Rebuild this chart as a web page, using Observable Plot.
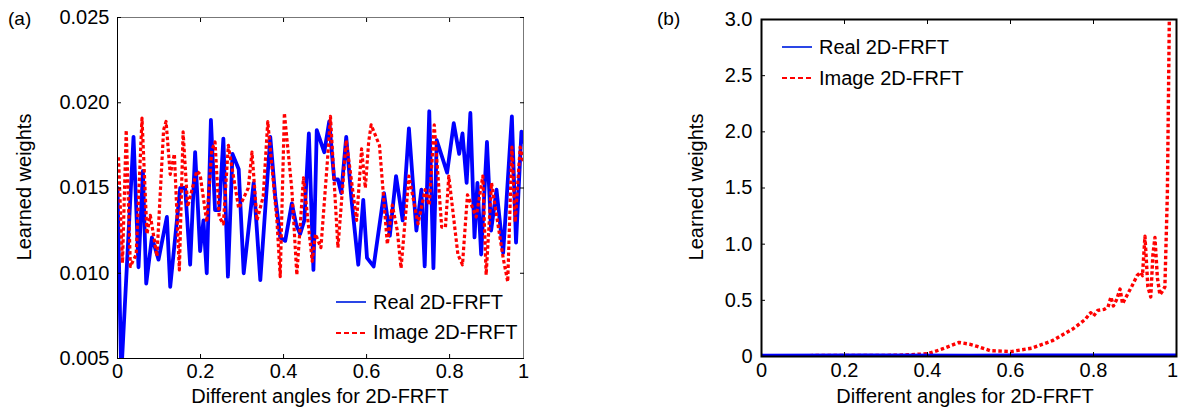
<!DOCTYPE html>
<html>
<head>
<meta charset="utf-8">
<script src="https://cdn.jsdelivr.net/npm/d3@7"></script>
<script src="https://cdn.jsdelivr.net/npm/@observablehq/plot@0.6"></script>
<style>
  html, body { margin: 0; padding: 0; background: #fff; }
  #wrap { position: relative; width: 1179px; height: 412px; overflow: hidden; font-family: "Liberation Sans", Arial, sans-serif; }
  #left, #right, #overlay { position: absolute; top: 0; }
  #left { left: 0; }
  #right { left: 600px; }
  #overlay { left: 0; pointer-events: none; }
</style>
</head>
<body>
<div id="wrap">
  <div id="left"></div>
  <div id="right"></div>
  <svg id="overlay" width="1179" height="412"></svg>
</div>
<script>
// ---------- Panel (a) data ----------
const realAX = [0, 0.009, 0.0386, 0.0506, 0.0612, 0.0692, 0.0829, 0.0988, 0.119, 0.127, 0.151, 0.163, 0.175, 0.187, 0.199, 0.207, 0.215, 0.225, 0.235, 0.245, 0.255, 0.266, 0.277, 0.292, 0.304, 0.328, 0.344, 0.368, 0.380, 0.392, 0.404, 0.420, 0.431, 0.440, 0.450, 0.461, 0.472, 0.480, 0.498, 0.510, 0.522, 0.531, 0.539, 0.551, 0.563, 0.580, 0.592, 0.601, 0.617, 0.642, 0.656, 0.671, 0.687, 0.702, 0.720, 0.732, 0.740, 0.751, 0.761, 0.769, 0.794, 0.810, 0.823, 0.831, 0.841, 0.850, 0.860, 0.867, 0.876, 0.890, 0.900, 0.913, 0.929, 0.950, 0.960, 0.973, 0.978];
const realAY = [0.0150, 0.0040, 0.0180, 0.01035, 0.0160, 0.0094, 0.0121, 0.0108, 0.0133, 0.0092, 0.0150, 0.0150, 0.0105, 0.0171, 0.0113, 0.0131, 0.0100, 0.0190, 0.0137, 0.0137, 0.0179, 0.0098, 0.0170, 0.0161, 0.0100, 0.0153, 0.0096, 0.0180, 0.0145, 0.0121, 0.0119, 0.0141, 0.0128, 0.0123, 0.0131, 0.0182, 0.0102, 0.0184, 0.0171, 0.0189, 0.0155, 0.0155, 0.0147, 0.0180, 0.0145, 0.0105, 0.0143, 0.0109, 0.0104, 0.0147, 0.0122, 0.0157, 0.0131, 0.0185, 0.0125, 0.0149, 0.0104, 0.0195, 0.0103, 0.0178, 0.0159, 0.0188, 0.0170, 0.0182, 0.0153, 0.0194, 0.0121, 0.0153, 0.0111, 0.0177, 0.0125, 0.0149, 0.0112, 0.0192, 0.0118, 0.0183, 0.0177];
const imagAX = [0.0024, 0.008, 0.012, 0.021, 0.031, 0.045, 0.059, 0.071, 0.079, 0.095, 0.111, 0.117, 0.127, 0.137, 0.149, 0.158, 0.169, 0.191, 0.199, 0.215, 0.227, 0.235, 0.245, 0.255, 0.267, 0.292, 0.315, 0.324, 0.336, 0.351, 0.362, 0.384, 0.392, 0.402, 0.420, 0.432, 0.448, 0.469, 0.477, 0.490, 0.506, 0.513, 0.531, 0.551, 0.576, 0.588, 0.597, 0.605, 0.611, 0.631, 0.650, 0.662, 0.674, 0.683, 0.702, 0.724, 0.741, 0.751, 0.763, 0.781, 0.790, 0.798, 0.820, 0.831, 0.843, 0.864, 0.880, 0.888, 0.901, 0.929, 0.940, 0.950, 0.958, 0.970, 0.978];
const imagAY = [0.0168, 0.0131, 0.0106, 0.0184, 0.0104, 0.0111, 0.0191, 0.0123, 0.0134, 0.0110, 0.0184, 0.0189, 0.0158, 0.0170, 0.0102, 0.0183, 0.0139, 0.0160, 0.0158, 0.0130, 0.0172, 0.0177, 0.0133, 0.0129, 0.0175, 0.0138, 0.0150, 0.0171, 0.0131, 0.0145, 0.0189, 0.0131, 0.0098, 0.0194, 0.0149, 0.0099, 0.0156, 0.0107, 0.0123, 0.0115, 0.0167, 0.0192, 0.0115, 0.0178, 0.0131, 0.0173, 0.0150, 0.0177, 0.0187, 0.0175, 0.0117, 0.0140, 0.0125, 0.0103, 0.0157, 0.0129, 0.0149, 0.0140, 0.0187, 0.0127, 0.0127, 0.0157, 0.0111, 0.0105, 0.0146, 0.0133, 0.0157, 0.0099, 0.0153, 0.0109, 0.0095, 0.0174, 0.0130, 0.0174, 0.0165];
const xTicksA = [0, 0.2, 0.4, 0.6, 0.8, 0.978];
const xLabelsA = ["0", "0.2", "0.4", "0.6", "0.8", "1"];
const yTicksA = [0.005, 0.010, 0.015, 0.020, 0.025];

// ---------- Panel (b) data ----------
const realBX = [0, 0.25, 0.5, 0.75, 1];
const realBY = [0.014, 0.015, 0.013, 0.016, 0.015];
const imagBX = [0, 0.1, 0.2, 0.3, 0.343, 0.401, 0.434, 0.476, 0.501, 0.52, 0.551, 0.601, 0.651, 0.701, 0.751, 0.78, 0.793, 0.80, 0.81, 0.826, 0.835, 0.842, 0.848, 0.855, 0.864, 0.870, 0.893, 0.905, 0.914, 0.918, 0.924, 0.931, 0.938, 0.943, 0.948, 0.954, 0.960, 0.966, 0.972, 0.978, 0.983];
const imagBY = [0.008, 0.008, 0.009, 0.010, 0.013, 0.025, 0.065, 0.125, 0.110, 0.090, 0.052, 0.044, 0.074, 0.141, 0.247, 0.33, 0.39, 0.36, 0.41, 0.42, 0.44, 0.53, 0.45, 0.50, 0.60, 0.47, 0.63, 0.72, 0.75, 0.72, 1.07, 0.62, 0.53, 0.90, 1.06, 0.70, 0.55, 0.58, 0.62, 1.45, 3.1];
const xTicksB = [0, 0.2, 0.4, 0.6, 0.8, 1];
const xLabelsB = ["0", "0.2", "0.4", "0.6", "0.8", "1"];
const yTicksB = [0, 0.5, 1.0, 1.5, 2.0, 2.5, 3.0];
const yLabelsB = ["0", "0.5", "1.0", "1.5", "2.0", "2.5", "3.0"];

const seriesNames = ["Real 2D-FRFT", "Image 2D-FRFT"];
const panelTags = ["(a)", "(b)"];
const axisTitleX = "Different angles for 2D-FRFT";
const axisTitleY = "Learned weights";

const FONT = '"Liberation Sans", Arial, sans-serif';
const BLUE = "#0000ff";
const RED = "#ff0000";
const DOTS = "3.5,2.5";

const zipXY = (xs, ys) => xs.map((x, i) => ({x, y: ys[i]}));

function dotRed(svg) {
  d3.select(svg).selectAll("g").filter(function () {
    return this.getAttribute("stroke") === RED;
  }).attr("stroke-dasharray", DOTS).attr("stroke-linecap", "butt");
}

// ---------- Panel (a) ----------
const realA = zipXY(realAX, realAY);
const imagA = zipXY(imagAX, imagAY);

const plotA = Plot.plot({
  width: 600, height: 412,
  marginLeft: 117, marginRight: 77, marginTop: 17, marginBottom: 54,
  style: {fontFamily: FONT, fontSize: "20px", color: "#000", background: "transparent", overflow: "visible"},
  x: {domain: [0, 0.978]},
  y: {domain: [0.005, 0.025]},
  marks: [
    Plot.frame({stroke: "#777", strokeWidth: 1}),
    Plot.line(realA, {x: "x", y: "y", stroke: BLUE, strokeWidth: 3.8, strokeLinejoin: "round", clip: true}),
    Plot.line(imagA, {x: "x", y: "y", stroke: RED, strokeWidth: 3.2, strokeDasharray: DOTS, clip: true}),
    Plot.ruleX([0], {stroke: "#000", strokeWidth: 1}),
    Plot.ruleY([0.005], {stroke: "#000", strokeWidth: 1}),
    Plot.axisY(yTicksA, {anchor: "left", tickSize: 0, tickPadding: 8, tickFormat: d3.format(".3f"), label: null}),
    Plot.axisY(yTicksA, {anchor: "left", tickSize: 4, dx: 4, text: null, label: null}),
    Plot.axisY(yTicksA, {anchor: "right", tickSize: 4, dx: -4, text: null, label: null}),
    Plot.axisX(xTicksA, {anchor: "bottom", tickSize: 0, tickPadding: 5, tickFormat: d => xLabelsA[xTicksA.indexOf(d)], label: null}),
    Plot.axisX(xTicksA.slice(0, 5), {anchor: "bottom", tickSize: 4, dy: -4, text: null, label: null}),
    Plot.axisX(xTicksA.slice(0, 5), {anchor: "top", tickSize: 4, dy: 4, text: null, label: null})
  ]
});
dotRed(plotA);
document.getElementById("left").appendChild(plotA);

// ---------- Panel (b) ----------
const realB = zipXY(realBX, realBY);
const imagB = zipXY(imagBX, imagBY);

const plotB = Plot.plot({
  width: 579, height: 412,
  marginLeft: 161, marginRight: 3, marginTop: 19, marginBottom: 56,
  style: {fontFamily: FONT, fontSize: "20px", color: "#000", background: "transparent", overflow: "visible"},
  x: {domain: [0, 1]},
  y: {domain: [0, 3]},
  marks: [
    Plot.line(imagB, {x: "x", y: "y", stroke: RED, strokeWidth: 3.4, strokeDasharray: DOTS, clip: true}),
    Plot.line(realB, {x: "x", y: "y", stroke: BLUE, strokeWidth: 2.6, clip: true}),
    Plot.frame({stroke: "#000", strokeWidth: 2}),
    Plot.axisY(yTicksB, {anchor: "left", tickSize: 0, tickPadding: 9, tickFormat: d => yLabelsB[yTicksB.indexOf(d)], label: null}),
    Plot.axisY(yTicksB.slice(1, 6), {anchor: "left", tickSize: 4, dx: 4, text: null, label: null}),
    Plot.axisX(xTicksB.slice(0, 5), {anchor: "bottom", tickSize: 0, tickPadding: 6, tickFormat: d => xLabelsB[xTicksB.indexOf(d)], label: null}),
    Plot.axisX(xTicksB.slice(5), {anchor: "bottom", tickSize: 0, tickPadding: 6, dx: -4, tickFormat: d => xLabelsB[xTicksB.indexOf(d)], label: null}),
    Plot.axisX(xTicksB.slice(1, 5), {anchor: "bottom", tickSize: 4, dy: -4, text: null, label: null}),
    Plot.axisX(xTicksB.slice(1, 5), {anchor: "top", tickSize: 4, dy: 4, text: null, label: null})
  ]
});
dotRed(plotB);
document.getElementById("right").appendChild(plotB);

// ---------- Axis titles, legends and panel tags ----------
const ov = d3.select("#overlay");
function txt(x, y, s, size, anchor, rot) {
  const t = ov.append("text").attr("x", x).attr("y", y).text(s)
    .attr("font-family", FONT).attr("font-size", size).attr("fill", "#000")
    .attr("text-anchor", anchor || "start");
  if (rot) t.attr("transform", `rotate(${rot},${x},${y})`);
  return t;
}
function legend(x0, yReal, yImag, baseReal, baseImag) {
  ov.append("line").attr("x1", x0).attr("x2", x0 + 30).attr("y1", yReal).attr("y2", yReal)
    .attr("stroke", "#2a46e6").attr("stroke-width", 2);
  ov.append("line").attr("x1", x0).attr("x2", x0 + 30).attr("y1", yImag).attr("y2", yImag)
    .attr("stroke", RED).attr("stroke-width", 2).attr("stroke-dasharray", "5,3");
  txt(x0 + 37, baseReal, seriesNames[0], 20);
  txt(x0 + 37, baseImag, seriesNames[1], 20);
}
legend(336, 302, 333, 309, 339);
legend(782, 47, 78, 54, 85);
txt(8, 25, panelTags[0], 19);
txt(657, 25, panelTags[1], 19);
txt(320, 403, axisTitleX, 20, "middle");
txt(965, 403, axisTitleX, 20, "middle");
txt(31, 187, axisTitleY, 20, "middle", -90);
txt(703, 187, axisTitleY, 20, "middle", -90);
</script>
</body>
</html>
